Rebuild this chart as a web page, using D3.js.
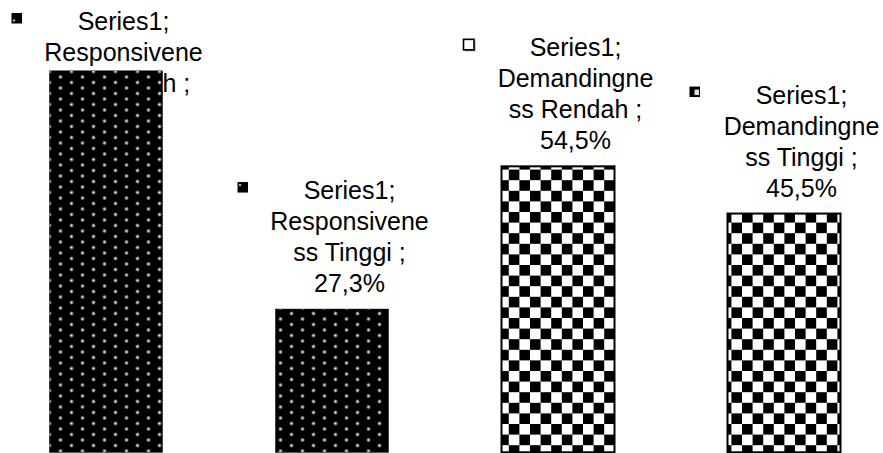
<!DOCTYPE html>
<html>
<head>
<meta charset="utf-8">
<script src="https://cdn.jsdelivr.net/npm/d3@7"></script>
<style>
  html, body { margin: 0; padding: 0; background: #ffffff; }
  svg { display: block; }
  text { font-family: "Liberation Sans", Arial, sans-serif; }
</style>
</head>
<body>
<svg id="chart" width="883" height="453"></svg>
<script>
// Chart data
const seriesName = "Series1";
const categories = ["Responsiveness Rendah", "Responsiveness Tinggi", "Demandingness Rendah", "Demandingness Tinggi"];
const values = [72.7, 27.3, 54.5, 45.5];
// Category text as it wraps inside each data label
const categoryLines = [
  ["Responsivene", "ss Rendah ;"],
  ["Responsivene", "ss Tinggi ;"],
  ["Demandingne", "ss Rendah ;"],
  ["Demandingne", "ss Tinggi ;"]
];

const W = 883, H = 453;
const svg = d3.select("#chart");
const defs = svg.append("defs");

// Dotted fill: staggered soft light dots on black
const glow = defs.append("radialGradient").attr("id", "dotGlow");
glow.append("stop").attr("offset", "0%").attr("stop-color", "#eeeeee");
glow.append("stop").attr("offset", "55%").attr("stop-color", "#7a7a7a");
glow.append("stop").attr("offset", "100%").attr("stop-color", "#000000");

const dots = defs.append("pattern").attr("id", "dots")
  .attr("patternUnits", "userSpaceOnUse").attr("width", 22).attr("height", 11);
dots.append("rect").attr("width", 22).attr("height", 11).attr("fill", "#000");
[[5.5, 5.5], [16.5, 0], [16.5, 11], [-5.5, 0], [-5.5, 11], [27.5, 0], [27.5, 11]].forEach(([cx, cy]) => {
  dots.append("circle").attr("cx", cx).attr("cy", cy).attr("r", 2.5).attr("fill", "url(#dotGlow)");
});

// Checker fill
const cell = 10.6;
const checker = defs.append("pattern").attr("id", "checker")
  .attr("patternUnits", "userSpaceOnUse").attr("width", cell * 2).attr("height", cell * 2);
checker.append("rect").attr("width", cell * 2).attr("height", cell * 2).attr("fill", "#fff");
checker.append("rect").attr("width", cell).attr("height", cell).attr("fill", "#000");
checker.append("rect").attr("x", cell).attr("y", cell).attr("width", cell).attr("height", cell).attr("fill", "#000");

const soft = defs.append("filter").attr("id", "soft")
  .attr("x", "-5%").attr("y", "-5%").attr("width", "110%").attr("height", "110%");
soft.append("feGaussianBlur").attr("stdDeviation", 0.6);

const fills = ["url(#dots)", "url(#dots)", "url(#checker)", "url(#checker)"];

// Scales
const x = d3.scaleBand().domain(categories).range([-7, 897]).paddingInner(0.5).paddingOuter(0.25);
const y = d3.scaleLinear().domain([0, 86.2]).range([452.3, 0]);

const fmt = v => d3.format(".1f")(v).replace(".", ",") + "%";

// Data labels (drawn first; bars sit on top of them)
const fontSize = 25, lineH = 31, gap = 17, labelDx = 17.5;
const labels = svg.append("g").attr("class", "labels");
categories.forEach((c, i) => {
  const lines = [seriesName + ";", ...categoryLines[i], fmt(values[i])];
  const cx = x(c) + x.bandwidth() / 2 + labelDx;
  const top = y(values[i]);
  const first = Math.max(30, top - gap - lineH * (lines.length - 1));
  const t = labels.append("text")
    .attr("text-anchor", "middle")
    .attr("font-size", fontSize)
    .attr("fill", "#000");
  lines.forEach((ln, j) => {
    t.append("tspan").attr("x", cx).attr("y", first + j * lineH).text(ln);
  });

  // Legend key beside the first line
  const kx = cx - 112, ky = first - 17, ks = 10.5;
  const k = labels.append("g");
  if (i < 2) {
    k.append("rect").attr("x", kx).attr("y", ky).attr("width", ks).attr("height", ks).attr("fill", "#000");
    k.append("circle").attr("cx", kx + 2.5).attr("cy", ky + (i === 0 ? 7.5 : 3))
      .attr("r", 1.3).attr("fill", "#aaa");
  } else if (i === 2) {
    k.append("rect").attr("x", kx + 1.5).attr("y", ky + 1.5).attr("width", ks).attr("height", ks).attr("fill", "#999");
    k.append("rect").attr("x", kx).attr("y", ky).attr("width", ks).attr("height", ks)
      .attr("fill", "#fff").attr("stroke", "#000").attr("stroke-width", 1.6);
  } else {
    k.append("rect").attr("x", kx).attr("y", ky).attr("width", ks).attr("height", ks).attr("fill", "#000");
    k.append("rect").attr("x", kx + 5).attr("y", ky + 3).attr("width", 4.5).attr("height", 5.5).attr("fill", "#ddd");
  }
});

// Bars
svg.append("g").attr("class", "bars")
  .selectAll("rect")
  .data(values)
  .join("rect")
  .attr("x", (d, i) => x(categories[i]))
  .attr("y", d => y(d))
  .attr("width", x.bandwidth())
  .attr("height", d => y(0) - y(d))
  .attr("fill", (d, i) => fills[i])
  .attr("stroke", "#000")
  .attr("stroke-width", (d, i) => i < 2 ? 0.5 : 2)
  .attr("filter", "url(#soft)");
</script>
</body>
</html>
